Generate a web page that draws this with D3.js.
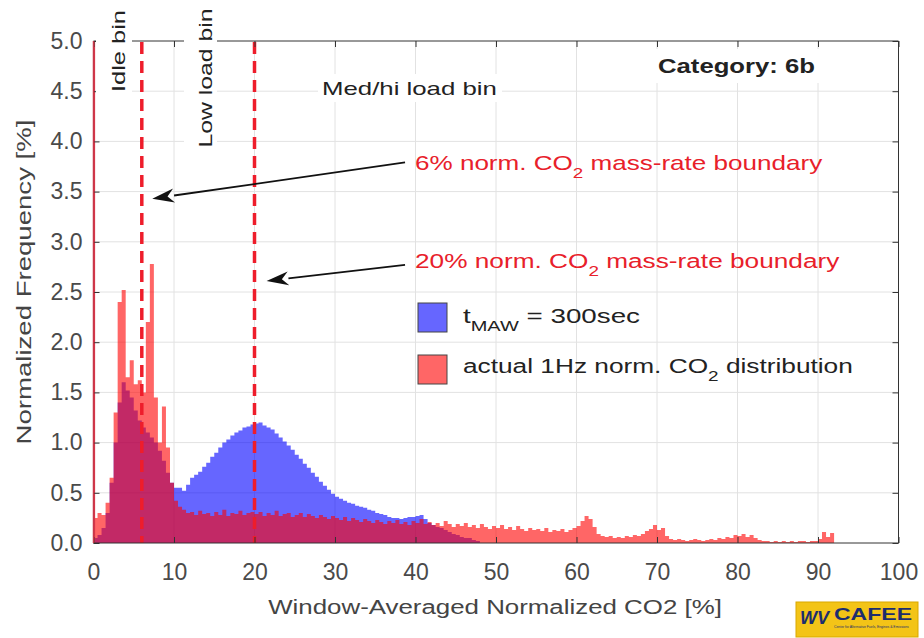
<!DOCTYPE html>
<html>
<head>
<meta charset="utf-8">
<script src="https://cdn.jsdelivr.net/npm/d3@7"></script>
<style>
  html, body { margin: 0; padding: 0; background: #fff; }
  svg { display: block; font-family: "Liberation Sans", Arial, sans-serif; }
</style>
</head>
<body>
<svg width="924" height="638"></svg>
<script>
// histogram bins, width 0.5 %, first bin starts at 0
const binWidth = 0.5;

// actual 1Hz normalized CO2 distribution (red)
const redFreq = [
  0.25, 0.30, 0.28, 0.40, 0.65, 1.30, 2.40, 2.52, 1.65, 1.82,
  1.58, 1.62, 1.50, 2.20, 2.78, 1.45, 1.00, 1.36, 0.95, 0.60,
  0.42, 0.36, 0.33, 0.30, 0.31, 0.28, 0.32, 0.29, 0.30, 0.27,
  0.31, 0.28, 0.33, 0.27, 0.30, 0.29, 0.32, 0.28, 0.30, 0.31,
  0.29, 0.31, 0.27, 0.30, 0.28, 0.32, 0.27, 0.29, 0.30, 0.26,
  0.28, 0.30, 0.26, 0.29, 0.27, 0.25, 0.28, 0.26, 0.24, 0.27,
  0.25, 0.23, 0.26, 0.22, 0.25, 0.23, 0.21, 0.24, 0.22, 0.20,
  0.23, 0.21, 0.19, 0.22, 0.20, 0.23, 0.19, 0.21, 0.18, 0.22,
  0.20, 0.24, 0.19, 0.21, 0.18, 0.20, 0.17, 0.22, 0.19, 0.16,
  0.19, 0.17, 0.20, 0.16, 0.18, 0.15, 0.19, 0.16, 0.14, 0.17,
  0.15, 0.18, 0.14, 0.16, 0.13, 0.17, 0.14, 0.12, 0.15, 0.13,
  0.14, 0.12, 0.15, 0.11, 0.13, 0.12, 0.14, 0.11, 0.13, 0.15,
  0.17, 0.22, 0.27, 0.24, 0.16, 0.09, 0.07, 0.06, 0.07, 0.05,
  0.06, 0.05, 0.07, 0.06, 0.08, 0.07, 0.09, 0.12, 0.14, 0.18,
  0.13, 0.15, 0.07, 0.04, 0.03, 0.04, 0.03, 0.02, 0.03, 0.04,
  0.03, 0.02, 0.03, 0.04, 0.03, 0.05, 0.04, 0.06, 0.05, 0.08,
  0.07, 0.09, 0.06, 0.08, 0.05, 0.03, 0.02, 0.02, 0.01, 0.02,
  0.01, 0.02, 0.01, 0.02, 0.01, 0.02, 0.02, 0.01, 0.02, 0.02,
  0.04, 0.11, 0.06, 0.10
];
// very narrow idle bin at 0 % that runs off the top of the axes
const redZeroBin = {x0: 0, x1: 0.2, value: 6.0};

// t_MAW = 300sec window-averaged distribution (blue)
const blueFreq = [
  0.05, 0.08, 0.15, 0.30, 0.60, 1.00, 1.40, 1.60, 1.52, 1.45,
  1.32, 1.22, 1.15, 1.10, 1.05, 1.00, 0.92, 0.82, 0.70, 0.60,
  0.55, 0.55, 0.52, 0.58, 0.65, 0.68, 0.71, 0.76, 0.80, 0.86,
  0.90, 0.95, 1.00, 1.03, 1.07, 1.10, 1.12, 1.15, 1.16, 1.18,
  1.19, 1.20, 1.17, 1.15, 1.13, 1.09, 1.05, 1.01, 0.97, 0.93,
  0.88, 0.84, 0.79, 0.75, 0.70, 0.66, 0.61, 0.57, 0.53, 0.49,
  0.46, 0.44, 0.42, 0.40, 0.39, 0.37, 0.36, 0.35, 0.33, 0.32,
  0.30, 0.29, 0.28, 0.26, 0.25, 0.25, 0.24, 0.25, 0.26, 0.26,
  0.27, 0.28, 0.24, 0.20, 0.18, 0.16, 0.15, 0.13, 0.11, 0.09,
  0.08, 0.06, 0.05, 0.05, 0.03, 0.02
];

const boundaries = [6, 20];
const xTicks = [0, 10, 20, 30, 40, 50, 60, 70, 80, 90, 100];
const yTicks = [0, 0.5, 1, 1.5, 2, 2.5, 3, 3.5, 4, 4.5, 5];

// arrows in data coords: tail -> tip
const arrows = [
  {x1: 38.7, y1: 3.79, x2: 7.3, y2: 3.43},
  {x1: 38.7, y1: 2.77, x2: 21.5, y2: 2.61}
];

const svg = d3.select("svg");
const L = 93.5, R = 898.5, T = 41, B = 543;

const x = d3.scaleLinear().domain([0, 100]).range([L, R]);
const y = d3.scaleLinear().domain([0, 5]).range([B, T]);

svg.append("rect").attr("width", 924).attr("height", 638).attr("fill", "#fff");

svg.append("defs").append("clipPath").attr("id", "plotclip")
  .append("rect").attr("x", L).attr("y", T).attr("width", R - L).attr("height", B - T);

// grid
const grid = svg.append("g").attr("stroke", "#e2e2e2").attr("stroke-width", 1);
grid.selectAll(".gx").data(xTicks.slice(1, -1)).join("line")
  .attr("x1", d => x(d)).attr("x2", d => x(d)).attr("y1", T).attr("y2", B);
grid.selectAll(".gy").data(yTicks.slice(1, -1)).join("line")
  .attr("y1", d => y(d)).attr("y2", d => y(d)).attr("x1", L).attr("x2", R);

// histograms as stepped areas
const toSteps = arr => {
  const pts = arr.map((v, i) => ({x: i * binWidth, v}));
  pts.push({x: arr.length * binWidth, v: 0});
  return pts;
};
const area = d3.area()
  .x(d => x(d.x))
  .y0(y(0))
  .y1(d => y(d.v))
  .curve(d3.curveStepAfter);

const plot = svg.append("g").attr("clip-path", "url(#plotclip)");
plot.append("path").attr("d", area(toSteps(blueFreq)))
  .attr("fill", "#0000ff").attr("fill-opacity", 0.6);
plot.append("path").attr("d", area(toSteps(redFreq)))
  .attr("fill", "#ff0000").attr("fill-opacity", 0.6);
plot.append("rect")
  .attr("x", x(redZeroBin.x0)).attr("width", x(redZeroBin.x1) - x(redZeroBin.x0))
  .attr("y", y(redZeroBin.value)).attr("height", y(0) - y(redZeroBin.value))
  .attr("fill", "#d9364a");

// boundary lines
plot.selectAll(".bnd").data(boundaries).join("line")
  .attr("x1", d => x(d)).attr("x2", d => x(d))
  .attr("y1", T + 1).attr("y2", B)
  .attr("stroke", "#ee1d2b").attr("stroke-width", 3.5)
  .attr("stroke-dasharray", "12,7");

// axes box and ticks
const tickCol = "#4a4a4a";
const xAxis = svg.append("g").attr("transform", `translate(0,${B})`)
  .call(d3.axisBottom(x).tickValues(xTicks).tickSizeInner(-6).tickSizeOuter(0).tickPadding(21));
const yAxis = svg.append("g").attr("transform", `translate(${L},0)`)
  .call(d3.axisLeft(y).tickValues(yTicks).tickFormat(d3.format(".1f")).tickSizeInner(-6).tickSizeOuter(0).tickPadding(11));
svg.append("g").attr("transform", `translate(0,${T})`)
  .call(d3.axisTop(x).tickValues(xTicks).tickSizeInner(-6).tickSizeOuter(0).tickFormat(""));
svg.append("g").attr("transform", `translate(${R},0)`)
  .call(d3.axisRight(y).tickValues(yTicks).tickSizeInner(-6).tickSizeOuter(0).tickFormat(""));
svg.selectAll(".domain").remove();
svg.selectAll(".tick line").attr("stroke", "#333");
[xAxis, yAxis].forEach(a => a.selectAll("text")
  .attr("font-size", 23).attr("fill", tickCol)
  .attr("font-family", "Liberation Sans, Arial, sans-serif"));

svg.append("line").attr("x1", L).attr("x2", R).attr("y1", T).attr("y2", T).attr("stroke", "#333");
svg.append("line").attr("x1", R).attr("x2", R).attr("y1", T).attr("y2", B).attr("stroke", "#333");
svg.append("line").attr("x1", L).attr("x2", R).attr("y1", B).attr("y2", B).attr("stroke", "#333");
svg.append("line").attr("x1", L).attr("x2", L).attr("y1", T).attr("y2", B).attr("stroke", "#c8384a").attr("stroke-width", 1.5);

// text helper: parts with optional subscripts, stretched to a target width
const placeText = (o) => {
  const g = svg.append("g");
  const t = g.append("text")
    .attr("font-size", o.size)
    .attr("font-weight", o.bold ? "bold" : "normal")
    .attr("fill", o.fill || "#333")
    .attr("text-anchor", o.anchor || "start");
  let down = false;
  o.parts.forEach(p => {
    const s = t.append("tspan").text(p.sub || p.t);
    if (p.sub) { s.attr("font-size", o.size * 0.72).attr("dy", 8); down = true; }
    else if (down) { s.attr("dy", -8); down = false; }
  });
  const w = t.node().getBBox().width;
  g.attr("transform", `translate(${o.x},${o.y})${o.rot ? " rotate(-90)" : ""} scale(${o.width / w},1)`);
  return g;
};

// white patches behind the bin labels
const bgs = [
  {x: 96, y: 3, w: 36, h: 95},
  {x: 184, y: 2, w: 33, h: 150},
  {x: 318, y: 74, w: 184, h: 28},
  {x: 652, y: 49, w: 170, h: 34}
];
svg.selectAll(".bg").data(bgs).join("rect")
  .attr("x", d => d.x).attr("y", d => d.y).attr("width", d => d.w).attr("height", d => d.h)
  .attr("fill", "#fff");

placeText({x: 125, y: 51, rot: true, anchor: "middle", size: 19, width: 82, fill: "#222", parts: [{t: "Idle bin"}]});
placeText({x: 212, y: 78, rot: true, anchor: "middle", size: 19, width: 139, fill: "#222", parts: [{t: "Low load bin"}]});
placeText({x: 322, y: 95, size: 19, width: 175, fill: "#222", parts: [{t: "Med/hi load bin"}]});
placeText({x: 658, y: 73, size: 21, bold: true, width: 157, fill: "#222", parts: [{t: "Category: 6b"}]});

const red = "#e8202a";
placeText({x: 415, y: 170, size: 21, width: 408, fill: red,
  parts: [{t: "6% norm. CO"}, {sub: "2"}, {t: " mass-rate boundary"}]});
placeText({x: 415, y: 268, size: 21, width: 425, fill: red,
  parts: [{t: "20% norm. CO"}, {sub: "2"}, {t: " mass-rate boundary"}]});

// arrows
arrows.forEach(a => {
  const x1 = x(a.x1), y1 = y(a.y1), x2 = x(a.x2), y2 = y(a.y2);
  const ang = Math.atan2(y2 - y1, x2 - x1);
  const len = 22, hw = 7;
  const bx = x2 - len * Math.cos(ang), by = y2 - len * Math.sin(ang);
  svg.append("line").attr("x1", x1).attr("y1", y1).attr("x2", bx).attr("y2", by)
    .attr("stroke", "#111").attr("stroke-width", 1.8);
  const head = [
    [x2, y2],
    [bx + hw * Math.sin(ang), by - hw * Math.cos(ang)],
    [x2 - len * 0.7 * Math.cos(ang), y2 - len * 0.7 * Math.sin(ang)],
    [bx - hw * Math.sin(ang), by + hw * Math.cos(ang)]
  ];
  svg.append("path").attr("d", d3.line()(head) + "Z").attr("fill", "#111");
});

// legend
const legend = svg.append("g");
legend.append("rect").attr("x", 418).attr("y", 303).attr("width", 29).attr("height", 29)
  .attr("fill", "#6666ff").attr("stroke", "#444").attr("stroke-width", 1);
legend.append("rect").attr("x", 418).attr("y", 355).attr("width", 29).attr("height", 29)
  .attr("fill", "#ff6666").attr("stroke", "#444").attr("stroke-width", 1);
placeText({x: 463, y: 323, size: 21, width: 177, fill: "#222",
  parts: [{t: "t"}, {sub: "MAW"}, {t: " = 300sec"}]});
placeText({x: 463, y: 373, size: 21, width: 390, fill: "#222",
  parts: [{t: "actual 1Hz norm. CO"}, {sub: "2"}, {t: " distribution"}]});

// axis labels
placeText({x: 495, y: 614, anchor: "middle", size: 20, width: 454, fill: "#444",
  parts: [{t: "Window-Averaged Normalized CO2 [%]"}]});
placeText({x: 31, y: 282, rot: true, anchor: "middle", size: 20, width: 325, fill: "#444",
  parts: [{t: "Normalized Frequency [%]"}]});

// CAFEE badge
const logo = svg.append("g");
logo.append("rect").attr("x", 796).attr("y", 602).attr("width", 122).attr("height", 35)
  .attr("fill", "#f3c417").attr("stroke", "#d9a800");
logo.append("text").attr("x", 800).attr("y", 624).attr("font-size", 18).attr("font-weight", "bold")
  .attr("font-style", "italic").attr("fill", "#1c2d6e").text("WV");
logo.append("text").attr("x", 834).attr("y", 620).attr("font-size", 17).attr("font-weight", "bold")
  .attr("fill", "#1c2d6e").attr("textLength", 78).attr("lengthAdjust", "spacingAndGlyphs").text("CAFEE");
logo.append("text").attr("x", 834).attr("y", 628).attr("font-size", 3.4).attr("fill", "#1c2d6e")
  .text("Center for Alternative Fuels, Engines & Emissions");
</script>
</body>
</html>
